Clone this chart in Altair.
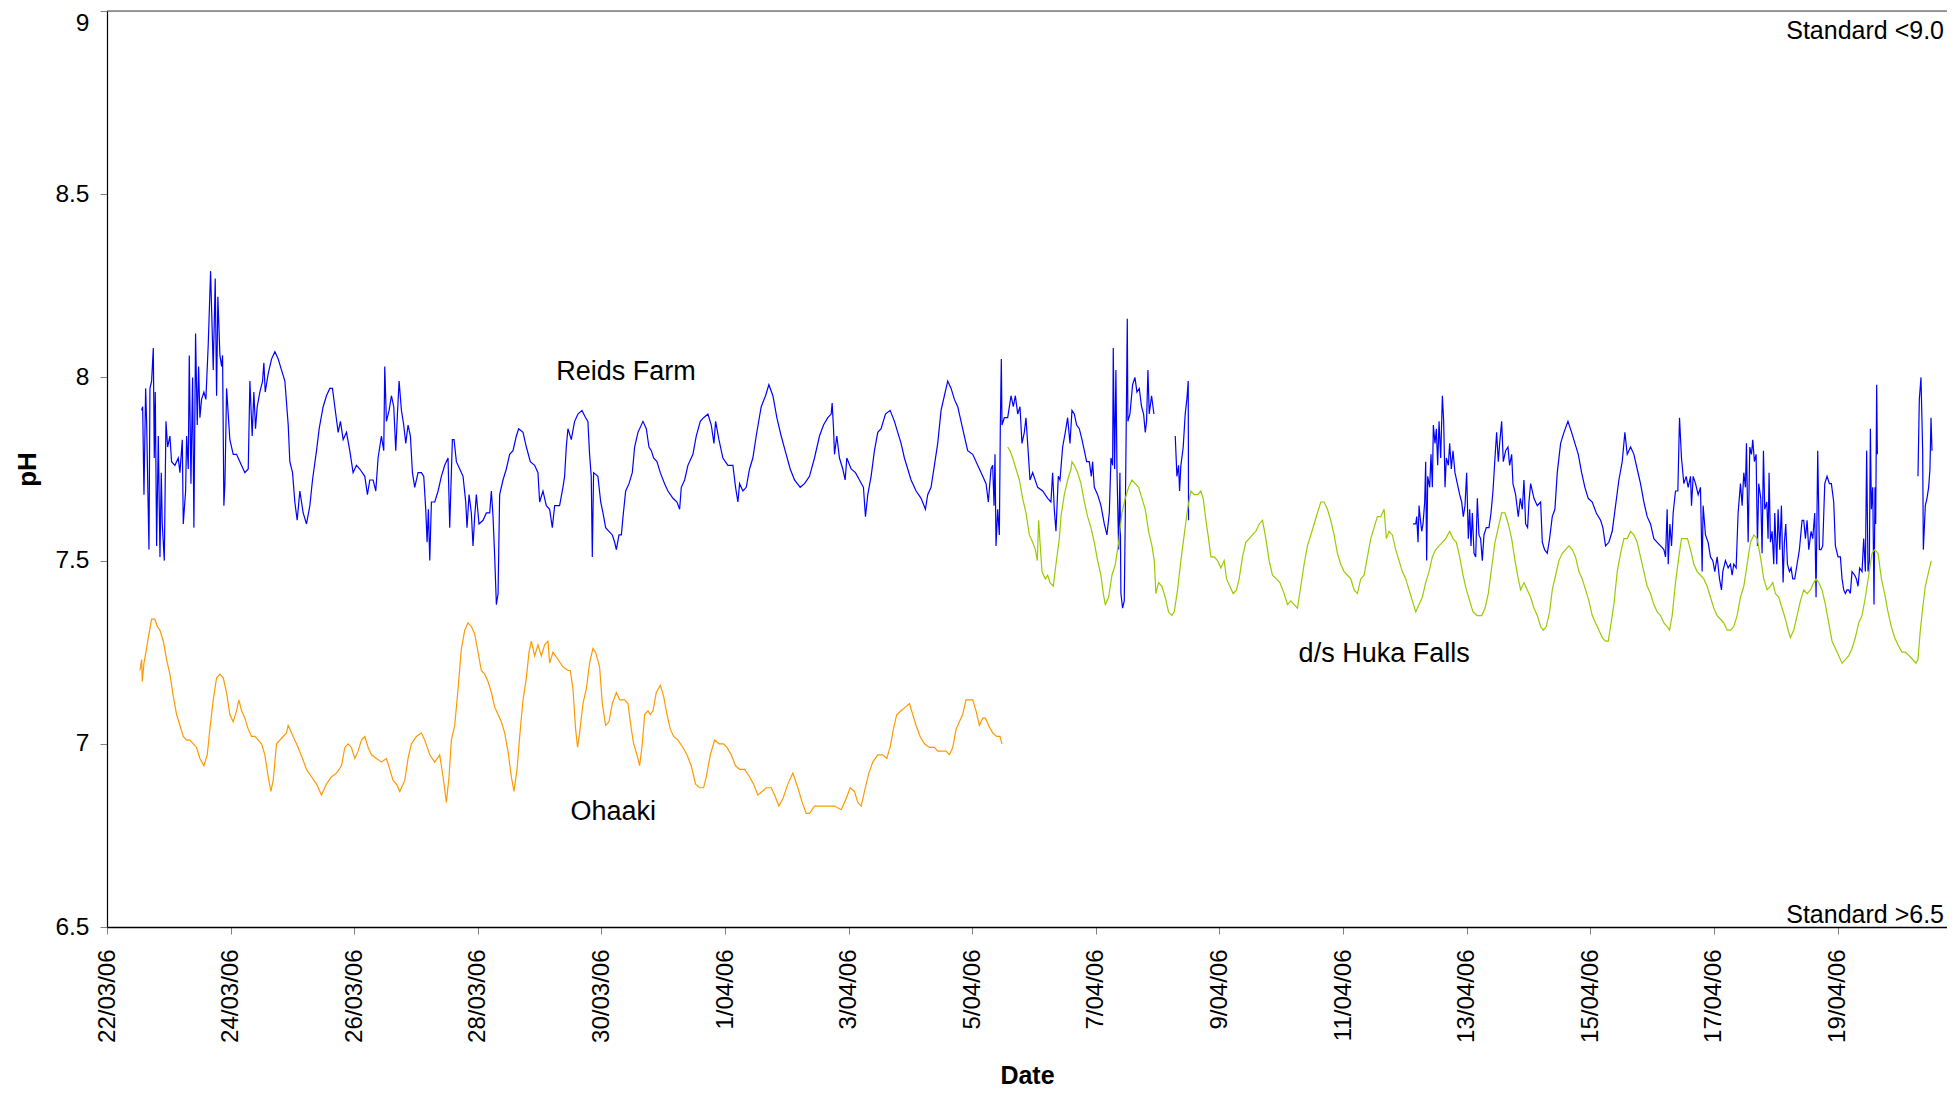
import altair as alt
import pandas as pd

start = pd.Timestamp("2006-03-22")

# days after 22/03/06 00:00, pH
reids_day = [
    0.560, 0.577, 0.598, 0.625, 0.641, 0.679, 0.695, 0.722, 0.749, 0.765, 0.781, 0.803, 0.830, 0.857, 0.878, 0.894,
    0.927, 0.954, 0.981, 1.018, 1.045, 1.099, 1.153, 1.180, 1.218, 1.234, 1.272, 1.288, 1.315, 1.331, 1.358, 1.385,
    1.406, 1.433, 1.460, 1.482, 1.503, 1.530, 1.568, 1.600, 1.638, 1.676, 1.719, 1.751, 1.773, 1.794, 1.827, 1.854,
    1.870, 1.891, 1.908, 1.935, 1.988, 2.042, 2.096, 2.150, 2.231, 2.285, 2.312, 2.349, 2.376, 2.403, 2.430, 2.473,
    2.517, 2.538, 2.560, 2.608, 2.662, 2.716, 2.770, 2.824, 2.878, 2.932, 2.958, 3.002, 3.039, 3.077, 3.120, 3.174,
    3.228, 3.282, 3.325, 3.390, 3.433, 3.497, 3.551, 3.605, 3.648, 3.686, 3.740, 3.777, 3.821, 3.875, 3.928, 3.982,
    4.036, 4.090, 4.171, 4.214, 4.252, 4.306, 4.349, 4.386, 4.440, 4.478, 4.494, 4.521, 4.564, 4.602, 4.640, 4.672,
    4.699, 4.726, 4.764, 4.801, 4.834, 4.871, 4.909, 4.942, 4.979, 5.033, 5.087, 5.125, 5.157, 5.179, 5.200, 5.222,
    5.249, 5.303, 5.357, 5.410, 5.464, 5.518, 5.545, 5.588, 5.615, 5.653, 5.707, 5.761, 5.804, 5.825, 5.858, 5.895,
    5.922, 5.949, 5.976, 6.019, 6.084, 6.138, 6.192, 6.219, 6.246, 6.273, 6.300, 6.327, 6.353, 6.407, 6.461, 6.515,
    6.569, 6.623, 6.661, 6.731, 6.785, 6.849, 6.919, 6.973, 7.000, 7.054, 7.108, 7.162, 7.205, 7.243, 7.323, 7.377,
    7.404, 7.431, 7.458, 7.512, 7.566, 7.620, 7.685, 7.744, 7.781, 7.808, 7.835, 7.852, 7.873, 7.943,
    7.988, 8.025, 8.068, 8.122, 8.176, 8.214, 8.241, 8.284, 8.322, 8.349, 8.392, 8.446, 8.499, 8.537, 8.591, 8.672,
    8.726, 8.769, 8.807, 8.844, 8.898, 8.952, 9.022, 9.076, 9.157, 9.222, 9.265, 9.292, 9.346, 9.399, 9.480, 9.534,
    9.599, 9.653, 9.723, 9.777, 9.820, 9.847, 9.901, 9.965, 10.046, 10.127, 10.170, 10.208, 10.235, 10.289, 10.343,
    10.396, 10.450, 10.504, 10.585, 10.655, 10.709, 10.774, 10.838, 10.908, 10.989, 11.054, 11.124, 11.216, 11.286,
    11.366, 11.447, 11.528, 11.593, 11.663, 11.717, 11.733, 11.755, 11.771, 11.808, 11.851, 11.905, 11.943, 11.970,
    12.040, 12.110, 12.175, 12.239, 12.272, 12.309, 12.363, 12.417, 12.471, 12.525, 12.595, 12.671, 12.741, 12.794,
    12.848, 12.902, 12.956, 13.010, 13.091, 13.172, 13.242, 13.279, 13.333, 13.387, 13.441, 13.495, 13.549, 13.603,
    13.657, 13.711, 13.765, 13.818, 13.872, 13.926, 14.007, 14.088, 14.169, 14.223, 14.260, 14.303, 14.330, 14.352,
    14.368, 14.384, 14.411, 14.438, 14.454, 14.470, 14.481, 14.519, 14.573, 14.627, 14.664, 14.697, 14.735, 14.772,
    14.804, 14.842, 14.869, 14.896, 14.934, 14.977, 15.058, 15.139, 15.220, 15.273, 15.300, 15.327, 15.354, 15.392,
    15.419, 15.462, 15.505, 15.543, 15.581, 15.613, 15.651, 15.689, 15.732, 15.775, 15.813, 15.850, 15.893, 15.926,
    15.947, 15.974, 16.028, 16.082, 16.136, 16.179, 16.217, 16.244, 16.271, 16.281, 16.303, 16.324, 16.341, 16.368,
    16.389, 16.405, 16.432, 16.459, 16.475, 16.497, 16.508, 16.518, 16.551, 16.594, 16.632, 16.664, 16.702, 16.739,
    16.772, 16.799, 16.820, 16.842, 16.863, 16.901, 16.939,
    17.284, 17.311, 17.338, 17.354, 17.375, 17.413, 17.445, 17.472, 17.494, 17.499,
    21.131, 21.175, 21.191, 21.212, 21.229, 21.245, 21.272, 21.293, 21.320, 21.336, 21.352, 21.369, 21.401, 21.422,
    21.444, 21.460, 21.487, 21.509, 21.530, 21.552, 21.579, 21.606, 21.627, 21.649, 21.670, 21.703, 21.724, 21.751,
    21.778, 21.810, 21.848, 21.886, 21.918, 21.945, 21.972, 21.999, 22.026, 22.048, 22.069, 22.091, 22.118, 22.145,
    22.172, 22.198, 22.225, 22.252, 22.279, 22.317, 22.360, 22.393, 22.425, 22.457, 22.484, 22.511, 22.533, 22.565,
    22.592, 22.630, 22.667, 22.694, 22.727, 22.748, 22.791, 22.834,
    22.867, 22.899, 22.926, 22.953, 22.985, 23.007, 23.034, 23.088, 23.142, 23.196, 23.223, 23.260, 23.303, 23.341,
    23.384, 23.427, 23.465, 23.519, 23.573, 23.638, 23.697, 23.751, 23.805, 23.859, 23.912, 23.966, 24.031, 24.096,
    24.166, 24.203, 24.246, 24.300, 24.354, 24.408, 24.462, 24.516, 24.559, 24.597, 24.651, 24.705, 24.758, 24.812,
    24.866, 24.920, 24.974, 25.028, 25.082, 25.136, 25.190, 25.217, 25.243, 25.260, 25.287, 25.314, 25.340, 25.378,
    25.416, 25.443, 25.475, 25.513, 25.551, 25.583, 25.621, 25.637, 25.664, 25.702, 25.745, 25.782, 25.809, 25.825,
    25.863, 25.906, 25.944, 25.982, 26.014, 26.052, 26.090, 26.122, 26.143, 26.186, 26.230, 26.267, 26.294, 26.321,
    26.359, 26.391, 26.429, 26.456, 26.483, 26.510, 26.526, 26.553, 26.580, 26.607, 26.628, 26.655, 26.682, 26.704,
    26.725, 26.758, 26.779, 26.801, 26.822, 26.855, 26.876, 26.892, 26.914, 26.941, 26.968, 26.984, 27.016, 27.038,
    27.065, 27.092, 27.119, 27.140, 27.162, 27.189, 27.221, 27.248, 27.275, 27.307, 27.345, 27.383, 27.426, 27.453,
    27.480, 27.507, 27.534, 27.572, 27.598, 27.631, 27.652, 27.679, 27.706, 27.733, 27.760, 27.793, 27.830, 27.868,
    27.900, 27.938, 27.965, 28.008, 28.046, 28.073, 28.100, 28.126, 28.153, 28.180, 28.207, 28.234, 28.278, 28.305,
    28.331, 28.358, 28.396, 28.423, 28.450, 28.471, 28.493, 28.515, 28.531, 28.547, 28.569, 28.590, 28.606, 28.617,
    28.633, 28.644,
    29.301, 29.323, 29.350, 29.377, 29.388, 29.420, 29.447, 29.474, 29.495, 29.512, 29.528,
]
reids_ph = [
    7.91, 7.92, 7.68, 7.97, 7.88, 7.53, 7.97, 7.99, 8.08, 7.78, 7.96, 7.54, 7.84, 7.51, 7.74, 7.60,
    7.50, 7.88, 7.81, 7.84, 7.77, 7.76, 7.78, 7.74, 7.83, 7.60, 7.69, 7.84, 7.75, 8.06, 7.71, 8.00,
    7.59, 8.12, 7.87, 8.03, 7.89, 7.94, 7.96, 7.94, 8.09, 8.29, 8.02, 8.27, 7.95, 8.22, 8.06, 8.03,
    8.06, 7.65, 7.71, 7.97, 7.83, 7.79, 7.79, 7.77, 7.74, 7.75, 7.99, 7.84, 7.96, 7.86, 7.92, 7.96,
    7.99, 8.04, 7.96, 8.01, 8.05, 8.07, 8.05, 8.02, 7.99, 7.87, 7.77, 7.74, 7.66, 7.61, 7.69, 7.63,
    7.60, 7.65, 7.72, 7.80, 7.86, 7.92, 7.95, 7.97, 7.97, 7.92, 7.85, 7.88, 7.83, 7.85, 7.80, 7.74,
    7.76, 7.75, 7.73, 7.68, 7.72, 7.72, 7.69, 7.78, 7.84, 7.80, 8.03, 7.88, 7.91, 7.95, 7.92, 7.80,
    7.90, 7.99, 7.91, 7.87, 7.82, 7.87, 7.84, 7.74, 7.70, 7.74, 7.74, 7.73, 7.64, 7.55, 7.64, 7.50,
    7.66, 7.66, 7.69, 7.73, 7.76, 7.78, 7.59, 7.83, 7.83, 7.77, 7.75, 7.73, 7.66, 7.59, 7.68, 7.63,
    7.54, 7.62, 7.68, 7.60, 7.61, 7.63, 7.63, 7.69, 7.62, 7.51, 7.38, 7.41, 7.68, 7.72, 7.75, 7.79,
    7.80, 7.84, 7.86, 7.85, 7.81, 7.77, 7.76, 7.74, 7.66, 7.69, 7.65, 7.64, 7.59, 7.65, 7.65, 7.70,
    7.73, 7.81, 7.86, 7.83, 7.88, 7.90, 7.91, 7.89, 7.88, 7.79, 7.73, 7.51, 7.74, 7.73,
    7.66, 7.63, 7.59, 7.58, 7.57, 7.55, 7.53, 7.57, 7.57, 7.62, 7.69, 7.71, 7.74, 7.81, 7.85, 7.88,
    7.86, 7.81, 7.80, 7.78, 7.77, 7.74, 7.71, 7.69, 7.67, 7.66, 7.64, 7.70, 7.72, 7.76, 7.79, 7.84,
    7.88, 7.89, 7.90, 7.87, 7.82, 7.88, 7.83, 7.78, 7.76, 7.76, 7.70, 7.66, 7.71, 7.69, 7.70,
    7.75, 7.78, 7.84, 7.92, 7.95, 7.98, 7.95, 7.89, 7.84, 7.79, 7.75, 7.72, 7.70, 7.71,
    7.73, 7.78, 7.84, 7.87, 7.89, 7.90, 7.93, 7.86, 7.79, 7.84, 7.78, 7.75, 7.72, 7.78,
    7.75, 7.74, 7.72, 7.70, 7.62, 7.68, 7.73, 7.80, 7.85, 7.86, 7.90, 7.91, 7.88, 7.85,
    7.82, 7.78, 7.75, 7.72, 7.69, 7.67, 7.64, 7.68, 7.70, 7.76, 7.82, 7.91, 7.95, 7.99,
    7.97, 7.94, 7.92, 7.88, 7.84, 7.80, 7.79, 7.76, 7.73, 7.71, 7.66, 7.75, 7.76, 7.65,
    7.79, 7.54, 7.64, 7.57, 7.87, 8.05, 7.87, 7.89, 7.89, 7.95, 7.92, 7.95, 7.90, 7.92,
    7.82, 7.85, 7.89, 7.82, 7.72, 7.74, 7.70, 7.69, 7.67, 7.66, 7.74, 7.64, 7.58, 7.73,
    7.72, 7.81, 7.85, 7.89, 7.82, 7.91, 7.90, 7.87, 7.86, 7.83, 7.80, 7.77, 7.77, 7.73,
    7.77, 7.70, 7.68, 7.65, 7.60, 7.57, 7.63, 7.78, 7.76, 8.08, 7.75, 8.02, 7.75, 7.53,
    7.74, 7.41, 7.37, 7.39, 7.61, 7.97, 8.16, 7.88, 7.90, 7.98, 8.00, 7.96, 7.97, 7.92,
    7.90, 7.85, 7.88, 8.02, 7.90, 7.95, 7.90,
    7.84, 7.73, 7.76, 7.69, 7.76, 7.81, 7.90, 7.94, 7.99, 7.61,
    7.60, 7.60, 7.62, 7.55, 7.65, 7.62, 7.58, 7.60, 7.66, 7.77, 7.50, 7.73, 7.70, 7.79,
    7.70, 7.87, 7.82, 7.86, 7.76, 7.88, 7.78, 7.95, 7.88, 7.70, 7.78, 7.76, 7.82, 7.75,
    7.80, 7.74, 7.71, 7.68, 7.66, 7.62, 7.65, 7.74, 7.56, 7.64, 7.54, 7.63, 7.52, 7.51,
    7.67, 7.57, 7.56, 7.50, 7.57, 7.59, 7.59, 7.63, 7.69, 7.78, 7.85, 7.77, 7.82, 7.88,
    7.77, 7.80, 7.81, 7.76, 7.79, 7.71, 7.68, 7.62,
    7.67, 7.64, 7.72, 7.60, 7.59, 7.66, 7.71, 7.67, 7.65, 7.66, 7.55, 7.53, 7.52, 7.56,
    7.62, 7.64, 7.74, 7.82, 7.85, 7.88, 7.85, 7.82, 7.79, 7.74, 7.70, 7.67, 7.66, 7.63,
    7.61, 7.59, 7.54, 7.55, 7.58, 7.65, 7.72, 7.77, 7.85, 7.79, 7.81, 7.79, 7.75, 7.71,
    7.66, 7.62, 7.60, 7.56, 7.55, 7.54, 7.53, 7.51, 7.64, 7.49, 7.60, 7.54, 7.63, 7.69,
    7.69, 7.89, 7.78, 7.71, 7.73, 7.70, 7.73, 7.65, 7.73, 7.71, 7.68, 7.70, 7.47, 7.65,
    7.57, 7.55, 7.51, 7.50, 7.47, 7.51, 7.45, 7.42, 7.47, 7.50, 7.48, 7.49, 7.46, 7.49,
    7.48, 7.63, 7.71, 7.65, 7.74, 7.70, 7.82, 7.55, 7.81, 7.79, 7.83, 7.77, 7.79, 7.54,
    7.71, 7.67, 7.52, 7.80, 7.64, 7.66, 7.56, 7.74, 7.55, 7.58, 7.49, 7.63, 7.49, 7.64,
    7.53, 7.65, 7.44, 7.55, 7.60, 7.49, 7.47, 7.48, 7.45, 7.45, 7.49, 7.53, 7.61, 7.61,
    7.56, 7.61, 7.53, 7.58, 7.56, 7.63, 7.40, 7.80, 7.53, 7.53, 7.54, 7.71, 7.73, 7.71,
    7.71, 7.66, 7.54, 7.51, 7.51, 7.45, 7.42, 7.41, 7.42, 7.42, 7.41, 7.47, 7.46, 7.45,
    7.43, 7.48, 7.47, 7.56, 7.47, 7.80, 7.47, 7.50, 7.86, 7.64, 7.70, 7.38, 7.70, 7.60,
    7.98, 7.79,
    7.73, 7.94, 8.00, 7.80, 7.53, 7.65, 7.67, 7.70, 7.75, 7.89, 7.80,
]

ohaaki_day = [
    0.533, 0.560, 0.571, 0.598, 0.630, 0.668, 0.722, 0.776, 0.814, 0.857, 0.911, 0.964, 1.018, 1.072, 1.126, 1.180,
    1.234, 1.288, 1.342, 1.396, 1.449, 1.503, 1.568, 1.622, 1.665, 1.719, 1.773, 1.827, 1.881, 1.934, 1.988, 2.042,
    2.096, 2.134, 2.177, 2.231, 2.285, 2.339, 2.393, 2.446, 2.500, 2.554, 2.608, 2.651, 2.689, 2.743, 2.797, 2.851,
    2.905, 2.931, 2.985, 3.039, 3.093, 3.163, 3.228, 3.309, 3.390, 3.470, 3.551, 3.632, 3.713, 3.794, 3.848, 3.901,
    3.955, 4.009, 4.063, 4.117, 4.171, 4.225, 4.279, 4.360, 4.440, 4.521, 4.575, 4.629, 4.683, 4.737, 4.818, 4.871,
    4.925, 5.006, 5.087, 5.141, 5.222, 5.303, 5.383, 5.437, 5.491, 5.534, 5.572, 5.626, 5.680, 5.734, 5.788, 5.842,
    5.895, 5.949, 6.003, 6.057, 6.111, 6.165, 6.219, 6.273, 6.327, 6.380, 6.434, 6.488, 6.542, 6.585, 6.634, 6.677,
    6.731, 6.785, 6.828, 6.866, 6.919, 6.973, 7.027, 7.081, 7.135, 7.162, 7.216, 7.297, 7.377, 7.458, 7.496, 7.539,
    7.582, 7.614, 7.647, 7.701, 7.755, 7.808, 7.862, 7.905, 7.970,
    8.014, 8.068, 8.122, 8.176, 8.241, 8.295, 8.376, 8.429, 8.483, 8.521, 8.575, 8.618, 8.661, 8.699, 8.753, 8.790,
    8.834, 8.887, 8.952, 9.006, 9.060, 9.114, 9.168, 9.238, 9.319, 9.383, 9.453, 9.523, 9.588, 9.653, 9.696, 9.761,
    9.831, 9.901, 9.976, 10.030, 10.100, 10.170, 10.235, 10.316, 10.396, 10.461, 10.531, 10.601, 10.666, 10.747,
    10.801, 10.871, 10.935, 11.016, 11.097, 11.178, 11.248, 11.313, 11.366, 11.447, 11.555, 11.663, 11.771, 11.879,
    11.959, 12.024, 12.094, 12.148, 12.202, 12.256, 12.326, 12.390, 12.471, 12.552, 12.617, 12.670, 12.724, 12.778,
    12.848, 12.918, 12.983, 13.037, 13.091, 13.156, 13.226, 13.306, 13.387, 13.441, 13.511, 13.576, 13.630, 13.684,
    13.738, 13.791, 13.845, 13.899, 13.942, 14.007, 14.061, 14.115, 14.169, 14.212, 14.266, 14.330, 14.395, 14.449,
    14.481,
]
ohaaki_ph = [
    7.20, 7.23, 7.17, 7.22, 7.25, 7.29, 7.34, 7.34, 7.32, 7.31, 7.28, 7.23, 7.19, 7.13, 7.08, 7.05,
    7.02, 7.01, 7.01, 7.00, 6.99, 6.96, 6.94, 6.97, 7.04, 7.12, 7.18, 7.19, 7.18, 7.14, 7.08, 7.06,
    7.09, 7.12, 7.09, 7.07, 7.04, 7.02, 7.02, 7.01, 7.00, 6.97, 6.91, 6.87, 6.90, 7.00, 7.01, 7.02,
    7.03, 7.05, 7.03, 7.01, 6.99, 6.96, 6.93, 6.91, 6.89, 6.86, 6.89, 6.91, 6.92, 6.94, 6.99, 7.00,
    6.99, 6.96, 6.98, 7.01, 7.02, 6.99, 6.97, 6.96, 6.95, 6.96, 6.93, 6.90, 6.89, 6.87, 6.90, 6.96,
    7.00, 7.02, 7.03, 7.01, 6.97, 6.95, 6.97, 6.91, 6.84, 6.91, 7.01, 7.05, 7.15, 7.26, 7.31, 7.33,
    7.32, 7.30, 7.25, 7.20, 7.19, 7.17, 7.14, 7.10, 7.08, 7.06, 7.03, 6.98, 6.91, 6.87, 6.93, 7.02,
    7.12, 7.18, 7.25, 7.28, 7.24, 7.27, 7.24, 7.27, 7.28, 7.22, 7.25, 7.23, 7.21, 7.20, 7.20, 7.15,
    7.04, 6.99, 7.03, 7.11, 7.15, 7.22, 7.26, 7.25, 7.21,
    7.11, 7.05, 7.06, 7.11, 7.14, 7.12, 7.12, 7.11, 7.04, 7.00, 6.97, 6.94, 7.00, 7.08, 7.09, 7.08,
    7.09, 7.14, 7.16, 7.13, 7.08, 7.04, 7.02, 7.01, 6.99, 6.97, 6.94, 6.89, 6.88, 6.88, 6.91, 6.97,
    7.01, 7.00, 7.00, 6.99, 6.97, 6.94, 6.93, 6.93, 6.91, 6.89, 6.86, 6.87, 6.88, 6.88,
    6.86, 6.83, 6.85, 6.89, 6.92, 6.88, 6.84, 6.81, 6.81, 6.83, 6.83, 6.83, 6.83, 6.82,
    6.85, 6.88, 6.87, 6.84, 6.83, 6.87, 6.92, 6.95, 6.97, 6.97, 6.96, 6.99, 7.04, 7.08,
    7.09, 7.10, 7.11, 7.08, 7.05, 7.02, 7.00, 6.99, 6.99, 6.98, 6.98, 6.98, 6.97, 6.99,
    7.04, 7.06, 7.08, 7.12, 7.12, 7.12, 7.09, 7.05, 7.07, 7.07, 7.05, 7.03, 7.02, 7.02,
    7.00,
]

huka_day = [
    14.573, 14.611, 14.654, 14.708, 14.762, 14.815, 14.869, 14.923, 14.977, 15.020, 15.052, 15.074, 15.096, 15.128,
    15.182, 15.220, 15.257, 15.311, 15.354, 15.408,
    15.435, 15.489, 15.543, 15.597, 15.613, 15.651, 15.705, 15.759, 15.813, 15.866, 15.920, 15.974, 16.028, 16.082,
    16.120, 16.152, 16.206, 16.260, 16.314, 16.368, 16.421, 16.475, 16.529, 16.583, 16.637, 16.691, 16.745, 16.799,
    16.853, 16.907, 16.944, 16.971, 17.014, 17.068, 17.122, 17.176, 17.230, 17.268, 17.321, 17.375, 17.429, 17.483,
    17.537, 17.591, 17.645, 17.699, 17.736, 17.780, 17.823, 17.860, 17.914, 17.968, 18.022, 18.076, 18.114, 18.168,
    18.221, 18.275, 18.318, 18.372, 18.426, 18.480, 18.534, 18.588, 18.642, 18.696, 18.750, 18.803, 18.857, 18.922,
    18.976, 19.046, 19.100, 19.154, 19.208, 19.262, 19.315, 19.369, 19.423, 19.477, 19.531, 19.585, 19.639, 19.693,
    19.747, 19.800, 19.854, 19.908, 19.962, 20.016, 20.070, 20.124, 20.178, 20.232, 20.285, 20.339, 20.393, 20.447,
    20.501, 20.555, 20.609, 20.663, 20.700, 20.743, 20.797, 20.851, 20.905, 20.959, 21.013, 21.067, 21.121, 21.175,
    21.228, 21.282, 21.336, 21.390, 21.444, 21.498, 21.552, 21.606, 21.660, 21.724, 21.778, 21.832, 21.886, 21.940,
    21.994, 22.048, 22.102, 22.172, 22.242, 22.296, 22.349, 22.403, 22.457, 22.511, 22.565, 22.619, 22.673, 22.727,
    22.781, 22.834,
    22.872, 22.926, 22.980, 23.034, 23.088, 23.142, 23.196, 23.239, 23.287, 23.341, 23.384, 23.438, 23.492, 23.546,
    23.600, 23.654, 23.708, 23.761, 23.815, 23.869, 23.923, 23.977, 24.031, 24.085, 24.139, 24.193, 24.246, 24.290,
    24.327, 24.381, 24.435, 24.489, 24.543, 24.597, 24.651, 24.705, 24.758, 24.812, 24.866, 24.920, 24.974, 25.028,
    25.082, 25.136, 25.190, 25.243, 25.281, 25.324, 25.378, 25.432, 25.475, 25.529, 25.572, 25.621, 25.675, 25.728,
    25.782, 25.836, 25.890, 25.944, 25.998, 26.052, 26.106, 26.160, 26.214, 26.267, 26.321, 26.375, 26.429, 26.483,
    26.537, 26.591, 26.645, 26.699, 26.752, 26.806, 26.860, 26.914, 26.952, 26.995, 27.049, 27.103, 27.157, 27.200,
    27.237, 27.291, 27.345, 27.399, 27.453, 27.507, 27.561, 27.615, 27.652, 27.695, 27.749, 27.803, 27.857, 27.911,
    27.965, 28.019, 28.073, 28.126, 28.180, 28.234, 28.288, 28.342, 28.396, 28.450, 28.504, 28.558, 28.601, 28.655,
    28.709, 28.762, 28.816, 28.870, 28.924, 28.978, 29.043, 29.097, 29.161, 29.215, 29.269, 29.301, 29.339, 29.377,
    29.420, 29.474, 29.517,
]
huka_ph = [
    7.81, 7.80, 7.78, 7.75, 7.72, 7.67, 7.63, 7.57, 7.55, 7.53, 7.50, 7.61, 7.55, 7.47,
    7.45, 7.46, 7.44, 7.43, 7.49, 7.56,
    7.62, 7.68, 7.72, 7.75, 7.77, 7.76, 7.74, 7.71, 7.66, 7.62, 7.59, 7.55, 7.50, 7.46,
    7.41, 7.38, 7.40, 7.46, 7.49, 7.55, 7.63, 7.67, 7.70, 7.72, 7.71, 7.70, 7.67, 7.64,
    7.58, 7.54, 7.50, 7.41, 7.44, 7.43, 7.40, 7.36, 7.35, 7.36, 7.42, 7.50, 7.57, 7.64,
    7.69, 7.68, 7.68, 7.69, 7.67, 7.61, 7.56, 7.51, 7.51, 7.50, 7.48, 7.50, 7.45, 7.43,
    7.41, 7.42, 7.45, 7.51, 7.55, 7.56, 7.57, 7.58, 7.60, 7.61, 7.56, 7.50, 7.46, 7.45,
    7.44, 7.41, 7.38, 7.39, 7.38, 7.37, 7.43, 7.49, 7.54, 7.57, 7.60, 7.63, 7.66, 7.66,
    7.64, 7.61, 7.57, 7.52, 7.49, 7.47, 7.46, 7.45, 7.42, 7.41, 7.45, 7.46, 7.51, 7.56,
    7.59, 7.62, 7.62, 7.64, 7.56, 7.58, 7.57, 7.53, 7.50, 7.47, 7.45, 7.42, 7.39, 7.36,
    7.38, 7.40, 7.44, 7.47, 7.51, 7.53, 7.54, 7.55, 7.56, 7.58, 7.56, 7.55, 7.51, 7.46,
    7.42, 7.39, 7.36, 7.35, 7.35, 7.37, 7.41, 7.48, 7.55, 7.59, 7.63, 7.63, 7.60, 7.56,
    7.50, 7.45,
    7.42, 7.44, 7.42, 7.40, 7.37, 7.35, 7.32, 7.31, 7.32, 7.36, 7.42, 7.46, 7.50, 7.52,
    7.53, 7.54, 7.53, 7.51, 7.47, 7.45, 7.42, 7.39, 7.35, 7.33, 7.31, 7.29, 7.28, 7.28,
    7.32, 7.38, 7.47, 7.52, 7.56, 7.56, 7.58, 7.57, 7.55, 7.51, 7.47, 7.43, 7.41, 7.38,
    7.36, 7.35, 7.33, 7.32, 7.31, 7.35, 7.44, 7.51, 7.56, 7.56, 7.56, 7.53, 7.49, 7.47,
    7.46, 7.45, 7.43, 7.40, 7.37, 7.35, 7.34, 7.33, 7.31, 7.31, 7.32, 7.35, 7.40, 7.43,
    7.49, 7.55, 7.57, 7.56, 7.51, 7.45, 7.42, 7.43, 7.44, 7.41, 7.40, 7.37, 7.34, 7.31,
    7.29, 7.31, 7.35, 7.39, 7.42, 7.41, 7.42, 7.44, 7.45, 7.44, 7.42, 7.38, 7.33, 7.28,
    7.26, 7.24, 7.22, 7.23, 7.24, 7.26, 7.29, 7.33, 7.35, 7.40, 7.46, 7.52, 7.53, 7.52,
    7.45, 7.41, 7.36, 7.32, 7.29, 7.27, 7.25, 7.25, 7.24, 7.23, 7.22, 7.23, 7.31, 7.37,
    7.43, 7.47, 7.50,
]

sites = ["Reids Farm", "Ohaaki", "d/s Huka Falls"]
site_colors = ["#0000FF", "#FF9900", "#99CC00"]

tick_dates = ["2006-03-22", "2006-03-24", "2006-03-26", "2006-03-28", "2006-03-30", "2006-04-01",
              "2006-04-03", "2006-04-05", "2006-04-07", "2006-04-09", "2006-04-11", "2006-04-13",
              "2006-04-15", "2006-04-17", "2006-04-19"]
ph_ticks = [6.5, 7, 7.5, 8, 8.5, 9]

# series labels written on the plot (day offset, pH at baseline)
label_text = ["Reids Farm", "Ohaaki", "d/s Huka Falls"]
label_day = [7.27, 7.50, 19.28]
label_ph = [7.994, 6.792, 7.223]

std_text = ["Standard <9.0", "Standard >6.5"]
std_ph = [8.923, 6.510]

x_end = pd.Timestamp("2006-04-20 18:30")
FONT = "Liberation Sans"


def series(name, days, ph):
    df = pd.DataFrame({"day": days, "pH": ph})
    df["Date"] = start + pd.to_timedelta(df["day"], unit="D")
    df["site"] = name
    # a new piece wherever the logger has a gap
    df["seg"] = name + (df["day"].diff() > 0.25).cumsum().astype(str)
    return df


data = pd.concat([
    series("Reids Farm", reids_day, reids_ph),
    series("Ohaaki", ohaaki_day, ohaaki_ph),
    series("d/s Huka Falls", huka_day, huka_ph),
], ignore_index=True)

labels = pd.DataFrame({
    "text": label_text,
    "Date": start + pd.to_timedelta(pd.Series(label_day), unit="D"),
    "pH": label_ph,
})
stds = pd.DataFrame({"text": std_text, "Date": [x_end] * 2, "pH": std_ph})


def to_dt(s):
    t = pd.Timestamp(s)
    return alt.DateTime(year=t.year, month=t.month, date=t.day, hours=t.hour, minutes=t.minute)


x_scale = alt.Scale(domain=[to_dt("2006-03-22"), to_dt(x_end)])
y_scale = alt.Scale(domain=[6.5, 9])

x_axis = alt.Axis(
    values=[to_dt(d) for d in tick_dates], format="%-d/%m/%y", formatType="time",
    labelAngle=270, labelAlign="right", labelBaseline="middle", labelFlush=False, labelOverlap=False,
    labelFontSize=24, labelPadding=15, labelColor="black", labelFont=FONT,
    tickSize=7, tickColor="#808080", domainColor="black", domainWidth=1.5, grid=False,
    title="Date", titleFontSize=25, titleFontWeight="bold", titleFont=FONT, titleColor="black",
    titleY=156, titleBaseline="alphabetic",
)
y_axis = alt.Axis(
    values=ph_ticks, format=".1~f", labelFontSize=24.5, labelPadding=11, labelColor="black", labelFont=FONT,
    # the top label would be clipped by the page edge, so it hangs below its tick
    labelBaseline={"condition": {"test": "datum.value == 9", "value": "top"}, "value": "middle"},
    tickSize=7, tickColor="#808080", domainColor="black", domainWidth=1.2, grid=False,
    title="pH", titleFontSize=26, titleFontWeight="bold", titleFont=FONT, titleColor="black",
    titleAngle=270, titleX=-80, titleY=458, titleAlign="center", titleBaseline="middle",
)

top = alt.Chart(pd.DataFrame({"pH": [9]})).mark_rule(color="#404040", strokeWidth=1.2).encode(
    y=alt.Y("pH:Q", scale=y_scale, axis=y_axis)
)

lines = alt.Chart(data).mark_line(strokeWidth=1.2).encode(
    x=alt.X("Date:T", scale=x_scale, axis=x_axis),
    y=alt.Y("pH:Q", scale=y_scale, axis=y_axis),
    color=alt.Color("site:N", scale=alt.Scale(domain=sites, range=site_colors), legend=None),
    detail="seg:N",
)

names = alt.Chart(labels).mark_text(align="left", baseline="alphabetic", fontSize=27, font=FONT, color="black").encode(
    x=alt.X("Date:T", scale=x_scale),
    y=alt.Y("pH:Q", scale=y_scale),
    text="text:N",
)

standards = alt.Chart(stds).mark_text(align="right", baseline="alphabetic", dx=-3, fontSize=25, font=FONT, color="black").encode(
    x=alt.X("Date:T", scale=x_scale),
    y=alt.Y("pH:Q", scale=y_scale),
    text="text:N",
)

chart = alt.layer(top, lines, names, standards).properties(
    width=1840, height=916,
    autosize=alt.AutoSizeParams(type="none"),
    padding={"left": 99, "top": 3, "right": 0, "bottom": 166},
).configure_view(stroke=None).configure(font=FONT, background="white")

chart.save("out.html", embed_options={"renderer": "svg", "actions": False})
